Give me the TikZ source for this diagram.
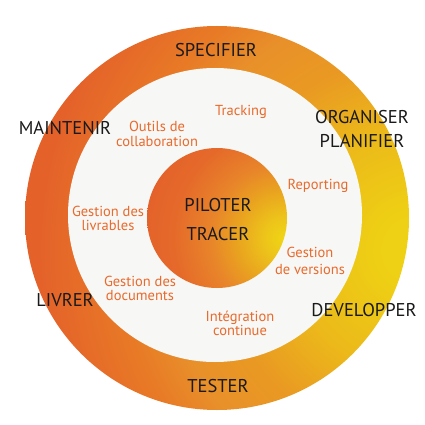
\documentclass[tikz,border=0pt]{standalone}
\usepackage{fontspec}
\setmainfont{PT Sans}
\usepackage{tikz}
\definecolor{paleground}{HTML}{F7F7F5}
\definecolor{tooltext}{HTML}{E96A2C}
\definecolor{phasetext}{HTML}{1A1A1A}
\pgfdeclareradialshading{ringshade}{\pgfpointorigin}{%
  rgb(0bp)=(0.937,0.824,0.078);
  rgb(2.5bp)=(0.933,0.812,0.078);
  rgb(7.7bp)=(0.925,0.725,0.102);
  rgb(11.9bp)=(0.914,0.604,0.133);
  rgb(15.5bp)=(0.910,0.565,0.165);
  rgb(18.5bp)=(0.910,0.478,0.149);
  rgb(23.5bp)=(0.894,0.384,0.165);
  rgb(50bp)=(0.894,0.384,0.165)}
\pgfdeclareradialshading{coreshade}{\pgfpointorigin}{%
  rgb(0bp)=(0.941,0.839,0.078);
  rgb(3.5bp)=(0.929,0.769,0.102);
  rgb(8.5bp)=(0.914,0.627,0.125);
  rgb(12.5bp)=(0.910,0.518,0.165);
  rgb(18.5bp)=(0.898,0.416,0.165);
  rgb(23.5bp)=(0.894,0.384,0.165);
  rgb(50bp)=(0.894,0.384,0.165)}

\begin{document}
\begin{tikzpicture}
  [x=1pt,y=-1pt,
   phase/.style={text=phasetext,anchor=base,align=center,inner sep=0pt,font=\fontsize{18.5}{24}\selectfont},
   tool/.style={text=tooltext,anchor=base,align=center,inner sep=0pt,font=\fontsize{14.5}{14}\selectfont}]

  \useasboundingbox[fill=white] (0,0) rectangle (425,425);

  \begin{scope}
    \clip (217,218) circle (192pt);
    \shade[shading=ringshade] (415,250) circle (400pt);
  \end{scope}
  \fill[paleground] (215,215) circle (147pt);
  \begin{scope}
    \clip (217,218) circle (70pt);
    \shade[shading=coreshade] (285,238) circle (150pt);
  \end{scope}

  \node[phase] (spec) at (216,57) {SPECIFIER};
  \node[phase] (orga) at (362,147) {ORGANISER\\PLANIFIER};
  \node[phase] (dev) at (364,316) {DEVELOPPER};
  \node[phase] (test) at (218,392) {TESTER};
  \node[phase] (livr) at (65,306) {LIVRER};
  \node[phase] (maint) at (65,134) {MAINTENIR};
  \node[phase,font=\fontsize{18.5}{29}\selectfont] (pilot) at (218,240) {PILOTER\\TRACER};

  \node[tool] (track) at (241,115) {Tracking};
  \node[tool] (collab) at (157,146) {Outils de\\collaboration};
  \node[tool] (report) at (318,189) {Reporting};
  \node[tool] (livrab) at (108,230) {Gestion des\\livrables};
  \node[tool,font=\fontsize{14.5}{17}\selectfont] (vers) at (310,274) {Gestion\\de versions};
  \node[tool] (docs) at (140,300) {Gestion des\\documents};
  \node[tool] (integ) at (240,335) {Intégration\\continue};
\end{tikzpicture}
\end{document}
